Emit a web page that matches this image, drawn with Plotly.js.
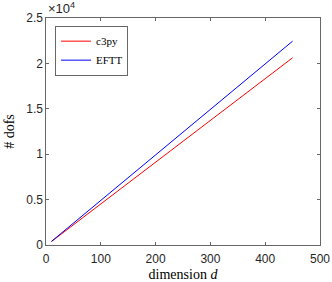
<!DOCTYPE html>
<html>
<head>
<meta charset="utf-8">
<script src="https://cdn.plot.ly/plotly-3.0.1.min.js"></script>
<style>html,body{margin:0;padding:0;background:#fff;}#chart{width:332px;height:282px;}</style>
</head>
<body>
<div id="chart"></div>
<script>
const dims = [10, 50, 100, 150, 200, 250, 300, 350, 400, 450];
const c3py = [380, 2220, 4520, 6820, 9120, 11420, 13720, 16020, 18320, 20620];
const eftt = [400, 2400, 4900, 7400, 9900, 12400, 14950, 17450, 19950, 22450];
const xTicks = [0, 100, 200, 300, 400, 500];
const yTickVals = [0, 5000, 10000, 15000, 20000, 25000];
const yTickText = ['0', '0.5', '1', '1.5', '2', '2.5'];

const axisCol = '#262626';
const tickFont = {family: 'Liberation Sans, Arial, sans-serif', size: 12, color: axisCol};
const serif = 'Liberation Serif, Times New Roman, serif';

const traces = [
  {x: dims, y: c3py, type: 'scatter', mode: 'lines', name: 'c3py', line: {color: '#ff0000', width: 1}},
  {x: dims, y: eftt, type: 'scatter', mode: 'lines', name: 'EFTT', line: {color: '#0000ff', width: 1}}
];

const layout = {
  width: 332, height: 282,
  margin: {l: 46, r: 12, t: 18, b: 37},
  paper_bgcolor: '#fff', plot_bgcolor: '#fff',
  showlegend: true,
  legend: {x: 0.034, y: 0.965, xanchor: 'left', yanchor: 'top', bgcolor: '#fff',
           bordercolor: axisCol, borderwidth: 0.7,
           font: {family: serif, size: 11, color: '#000'}, tracegroupgap: 0},
  xaxis: {range: [0, 500], tickvals: xTicks, ticktext: xTicks.map(String),
          ticks: 'inside', ticklen: 3, tickcolor: axisCol, tickwidth: 0.7,
          showline: true, linecolor: axisCol, linewidth: 0.7, mirror: 'ticks',
          showgrid: false, zeroline: false, tickfont: tickFont, ticklabelstandoff: 3,
          title: {text: 'dimension <i>d</i>', font: {family: serif, size: 14, color: '#000'}, standoff: 4}},
  yaxis: {range: [0, 25000], tickvals: yTickVals, ticktext: yTickText,
          ticks: 'inside', ticklen: 3, tickcolor: axisCol, tickwidth: 0.7,
          showline: true, linecolor: axisCol, linewidth: 0.7, mirror: 'ticks',
          showgrid: false, zeroline: false, tickfont: tickFont,
          title: {text: '# dofs', font: {family: serif, size: 14, color: '#000'}, standoff: 8}},
  annotations: [{xref: 'paper', yref: 'paper', x: 0, y: 1, xanchor: 'left', yanchor: 'bottom',
                 showarrow: false, text: '×10<sup>4</sup>', yshift: 0,
                 font: {family: 'Liberation Sans, Arial, sans-serif', size: 13, color: axisCol}}]
};

Plotly.newPlot('chart', traces, layout, {displayModeBar: false, staticPlot: true});
</script>
</body>
</html>
